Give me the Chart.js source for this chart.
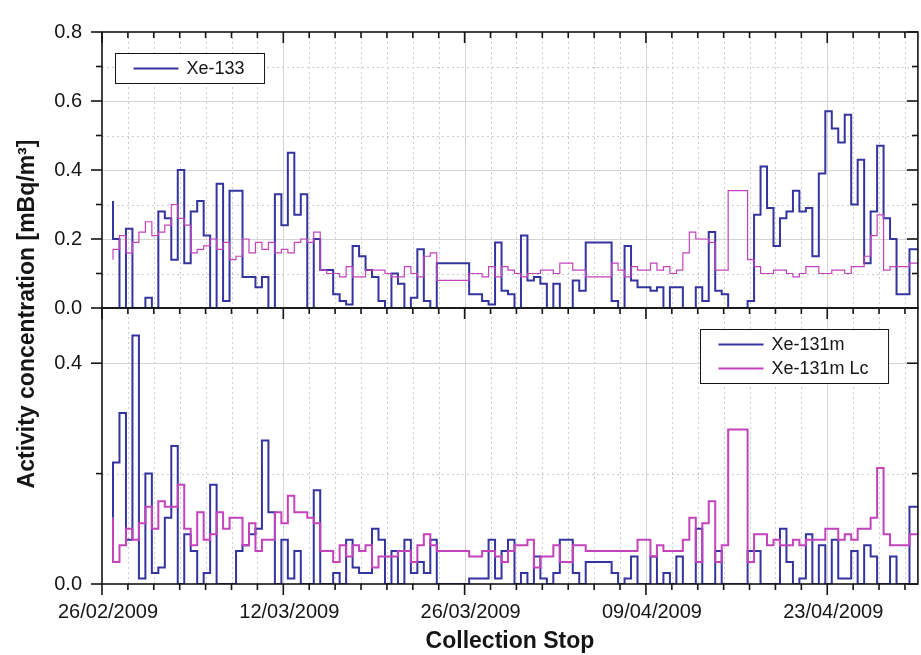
<!DOCTYPE html>
<html lang="en">
<head>
<meta charset="UTF-8">
<title>Xe-133 / Xe-131m activity concentration</title>
<script src="https://cdn.jsdelivr.net/npm/chart.js@4.4.1/dist/chart.umd.min.js"></script>
<style>
  html, body { margin: 0; padding: 0; background: #fff; }
  .wrap { width: 921px; height: 655px; }
</style>
</head>
<body>
<div class="wrap"><canvas id="chart" width="921" height="655"></canvas></div>
<script>
// collection stop, in days after 26/02/2009 00:00
const stopDays = [
  0.85, 1.35, 1.85, 2.35, 2.85, 3.35, 3.85, 4.35, 4.85, 5.35,
  5.85, 6.35, 6.85, 7.35, 7.85, 8.35, 8.85, 9.35, 9.85, 10.35,
  10.85, 11.35, 11.85, 12.35, 12.85, 13.35, 13.85, 14.35, 14.85, 15.35,
  15.85, 16.35, 16.85, 17.35, 17.85, 18.35, 18.85, 19.35, 19.85, 20.35,
  20.85, 21.35, 21.85, 22.35, 22.85, 23.35, 23.85, 24.35, 24.85, 25.35,
  25.85, 26.35, 26.85, 27.35, 27.85, 28.35, 28.85, 29.35, 29.85, 30.35,
  30.85, 31.35, 31.85, 32.35, 32.85, 33.35, 33.85, 34.35, 34.85, 35.35,
  35.85, 36.35, 36.85, 37.35, 37.85, 38.35, 38.85, 39.35, 39.85, 40.35,
  40.85, 41.35, 41.85, 42.35, 42.85, 43.35, 43.85, 44.35, 44.85, 45.35,
  45.85, 46.35, 46.85, 47.35, 47.85, 48.35, 48.85, 49.35, 49.85, 50.35,
  50.85, 51.35, 51.85, 52.35, 52.85, 53.35, 53.85, 54.35, 54.85, 55.35,
  55.85, 56.35, 56.85, 57.35, 57.85, 58.35, 58.85, 59.35, 59.85, 60.35,
  60.85, 61.35, 61.85, 62.35, 62.85, 63.35
];

// labelled dates, one every 14 days
const dateLabels = ['26/02/2009', '12/03/2009', '26/03/2009', '09/04/2009', '23/04/2009'];

// mBq/m3, null = no sample
const xe133 = [
  0.31, 0.20, 0, 0.23, 0, 0, 0.03, 0, 0.28, 0.26,
  0.14, 0.40, 0.13, 0.28, 0.31, 0.21, 0, 0.36, 0.02, 0.34,
  0.34, 0.09, 0.09, 0.06, 0.09, 0, 0.33, 0.24, 0.45, 0.27,
  0.33, 0, 0.20, 0.11, 0.11, 0.04, 0.02, 0.01, 0.18, 0.15,
  0.11, 0.09, 0.02, 0, 0.10, 0.07, 0, 0.03, 0.17, 0.02,
  0, null, null, null, null, 0.13, 0.04, 0.04, 0.02, 0.01,
  0.19, 0.05, 0.04, 0, 0.21, 0.08, 0.09, 0.07, 0, 0.07,
  0, 0, 0.08, 0.05, null, null, null, 0.19, 0.02, 0,
  0.18, 0.08, 0.06, 0.06, 0.05, 0.06, 0, 0.06, 0.06, 0,
  0, 0.06, 0.02, 0.22, 0.05, 0.04, null, null, 0, 0.02,
  0.27, 0.41, 0.29, 0.18, 0.26, 0.28, 0.34, 0.28, 0.29, 0.15,
  0.39, 0.57, 0.52, 0.48, 0.56, 0.30, 0.43, 0.13, 0.28, 0.47,
  0.26, 0.20, 0.04, 0.04, 0.17, 0.17
];

const xe133Lc = [
  0.14, 0.17, 0.21, 0.16, 0.19, 0.22, 0.25, 0.21, 0.22, 0.24,
  0.30, 0.26, 0.24, 0.16, 0.17, 0.18, 0.20, 0.17, 0.19, 0.14,
  0.15, 0.20, 0.16, 0.19, 0.17, 0.19, 0.16, 0.17, 0.16, 0.19,
  0.20, 0.19, 0.22, 0.11, 0.10, 0.10, 0.09, 0.12, 0.09, 0.09,
  0.11, 0.11, 0.11, 0.10, 0.09, 0.09, 0.12, 0.10, 0.09, 0.15,
  0.16, null, null, null, null, 0.08, 0.10, 0.10, 0.09, 0.12,
  0.09, 0.12, 0.11, 0.10, 0.09, 0.10, 0.10, 0.11, 0.11, 0.10,
  0.13, 0.13, 0.11, 0.11, null, null, null, 0.09, 0.13, 0.11,
  0.09, 0.12, 0.11, 0.11, 0.13, 0.11, 0.12, 0.10, 0.11, 0.16,
  0.22, 0.20, 0.20, 0.19, 0.11, 0.11, null, null, 0.34, 0.14,
  0.12, 0.10, 0.10, 0.11, 0.11, 0.10, 0.09, 0.10, 0.12, 0.12,
  0.10, 0.10, 0.11, 0.11, 0.10, 0.12, 0.12, 0.15, 0.21, 0.27,
  0.11, 0.12, 0.12, 0.12, 0.13, 0.13
];

const xe131m = [
  0.12, 0.22, 0.31, 0.08, 0.45, 0.01, 0.20, 0.02, 0.03, 0.12,
  0.25, 0, 0.09, 0.06, 0, 0.02, 0.18, 0, 0, 0,
  0.06, 0.07, 0.09, 0.10, 0.26, 0.13, 0, 0.08, 0.01, 0.06,
  0, 0, 0.17, 0, 0, 0.02, 0, 0.08, 0.03, 0.02,
  0.02, 0.10, 0.08, 0, 0.06, 0, 0.08, 0.02, 0.04, 0.02,
  0.08, null, null, null, null, 0, 0.01, 0.01, 0.01, 0.08,
  0.01, 0.06, 0.08, 0, 0.02, 0, 0.05, 0.01, 0, 0.02,
  0.08, 0.08, 0.02, 0, null, null, null, 0.04, 0.02, 0,
  0.01, 0.05, 0, 0, 0.05, 0, 0.02, 0, 0.05, 0,
  0, 0.10, 0, 0, 0.06, 0, null, null, 0, 0.06,
  0.06, 0, 0, 0, 0.10, 0.04, 0, 0.01, 0.09, 0,
  0.07, 0, 0.08, 0.01, 0.01, 0.06, 0, 0.07, 0.05, 0,
  0, 0.05, 0, 0, 0.14, 0.14
];

const xe131mLc = [
  0.12, 0.04, 0.07, 0.10, 0.08, 0.11, 0.14, 0.10, 0.15, 0.14,
  0.14, 0.18, 0.10, 0.07, 0.13, 0.08, 0.09, 0.13, 0.10, 0.12,
  0.12, 0.07, 0.11, 0.06, 0.08, 0.08, 0.13, 0.11, 0.16, 0.13,
  0.13, 0.12, 0.11, 0.06, 0.06, 0.04, 0.07, 0.05, 0.07, 0.06,
  0.07, 0.03, 0.05, 0.05, 0.05, 0.06, 0.06, 0.04, 0.07, 0.09,
  0.07, null, null, null, null, 0.06, 0.05, 0.05, 0.06, 0.06,
  0.05, 0.04, 0.06, 0.07, 0.07, 0.08, 0.03, 0.05, 0.05, 0.07,
  0.04, 0.04, 0.07, 0.07, null, null, null, 0.06, 0.06, 0.06,
  0.06, 0.06, 0.08, 0.08, 0.05, 0.07, 0.06, 0.06, 0.06, 0.08,
  0.12, 0.04, 0.11, 0.15, 0.04, 0.07, null, null, 0.28, 0.04,
  0.09, 0.09, 0.07, 0.08, 0.07, 0.07, 0.08, 0.07, 0.08, 0.08,
  0.08, 0.10, 0.10, 0.08, 0.09, 0.08, 0.10, 0.10, 0.12, 0.21,
  0.09, 0.07, 0.07, 0.07, 0.09, 0.09
];

const BLUE = '#3434a0';
const MAGENTA = '#c443bc';
const FONT = '"Liberation Sans", Arial, Helvetica, sans-serif';
const AXIS_COLOR = '#151515';

// legends sit inside the panels
const legendBoxes = [
  { axis: 'yTop', side: 'left', dx: 13, dy: 21, items: [0] },
  { axis: 'yBot', side: 'right', dx: 30, dy: 21, items: [2, 3] }
];

function points(values) {
  return stopDays.map((d, i) => ({ x: d, y: values[i] }));
}

function isMajorX(v) {
  return Math.abs(v / 14 - Math.round(v / 14)) < 1e-6;
}

function isMajorY(scale, v) {
  const step = scale.options.ticks.stepSize * 2;
  return Math.abs(v / step - Math.round(v / step)) < 1e-6;
}

function onStep(scale, v) {
  const step = scale.options.ticks.stepSize;
  return Math.abs(v / step - Math.round(v / step)) < 1e-6;
}

function line(ctx, x1, y1, x2, y2) {
  ctx.beginPath();
  ctx.moveTo(x1, y1);
  ctx.lineTo(x2, y2);
  ctx.stroke();
}

// grid, panel frames and tick marks (Origin style)
const panelFrame = {
  id: 'panelFrame',
  beforeDatasetsDraw(chart) {
    const { ctx, chartArea: a, scales } = chart;
    const x = scales.x;
    ctx.save();
    ctx.lineWidth = 1;
    const grid = major => {
      ctx.strokeStyle = major ? '#d4d4d4' : '#cdcdcd';
      ctx.setLineDash(major ? [] : [2, 3]);
    };
    x.ticks.forEach(t => {
      if (!onStep(x, t.value)) return;
      const px = Math.round(x.getPixelForValue(t.value)) + 0.5;
      if (px <= a.left + 2 || px >= a.right - 2) return;
      grid(isMajorX(t.value));
      line(ctx, px, a.top, px, a.bottom);
    });
    ['yTop', 'yBot'].forEach(id => {
      const s = scales[id];
      s.ticks.forEach(t => {
        if (!onStep(s, t.value)) return;
        const py = Math.round(s.getPixelForValue(t.value)) + 0.5;
        if (py <= s.top + 2 || py >= s.bottom - 2) return;
        grid(isMajorY(s, t.value));
        line(ctx, a.left, py, a.right, py);
      });
    });
    ctx.restore();
  },
  afterDatasetsDraw(chart) {
    const { ctx, chartArea: a, scales } = chart;
    const x = scales.x;
    ctx.save();
    ctx.strokeStyle = AXIS_COLOR;
    ctx.lineWidth = 1.6;
    ['yTop', 'yBot'].forEach(id => {
      const s = scales[id];
      ctx.strokeRect(a.left, s.top, a.right - a.left, s.bottom - s.top);
      // x ticks pointing into the panel from its top edge
      x.ticks.forEach(t => {
        if (!onStep(x, t.value)) return;
        const px = x.getPixelForValue(t.value);
        const len = isMajorX(t.value) ? 11 : 6;
        line(ctx, px, s.top, px, s.top + len);
      });
      // y ticks: outward on the left, inward on the right
      s.ticks.forEach(t => {
        if (!onStep(s, t.value)) return;
        const py = s.getPixelForValue(t.value);
        const len = isMajorY(s, t.value) ? 11 : 6;
        line(ctx, a.left - len, py, a.left, py);
        line(ctx, a.right - len, py, a.right, py);
      });
    });
    x.ticks.forEach(t => {
      if (!onStep(x, t.value)) return;
      const px = x.getPixelForValue(t.value);
      const len = isMajorX(t.value) ? 11 : 6;
      line(ctx, px, a.bottom, px, a.bottom + len);
    });
    ctx.restore();
  },
  afterDraw(chart) {
    const { ctx, chartArea: a } = chart;
    ctx.save();
    ctx.translate(28, (a.top + a.bottom) / 2 + 6);
    ctx.rotate(-Math.PI / 2);
    ctx.font = 'bold 23px ' + FONT;
    ctx.fillStyle = AXIS_COLOR;
    ctx.textAlign = 'center';
    ctx.textBaseline = 'middle';
    ctx.fillText('Activity concentration [mBq/m\u00b3]', 0, 0);
    ctx.restore();
  }
};

const insetLegend = {
  id: 'insetLegend',
  afterDraw(chart) {
    const { ctx, chartArea: a, scales } = chart;
    const rowH = 24, padL = 18, lineLen = 45, gap = 8, padR = 20, padV = 3;
    ctx.save();
    ctx.font = '18px ' + FONT;
    legendBoxes.forEach(box => {
      const s = scales[box.axis];
      const sets = box.items.map(i => chart.data.datasets[i]);
      const textW = Math.max(...sets.map(d => ctx.measureText(d.label).width));
      const w = padL + lineLen + gap + textW + padR;
      const h = sets.length * rowH + padV * 2;
      const bx = Math.round(box.side === 'left' ? a.left + box.dx : a.right - box.dx - w) + 0.5;
      const by = Math.round(s.top + box.dy) + 0.5;
      ctx.fillStyle = '#fff';
      ctx.fillRect(bx, by, w, h);
      ctx.strokeStyle = AXIS_COLOR;
      ctx.lineWidth = 1;
      ctx.strokeRect(bx, by, w, h);
      sets.forEach((d, r) => {
        const cy = by + padV + rowH * r + rowH / 2;
        ctx.strokeStyle = d.borderColor;
        ctx.lineWidth = 2;
        line(ctx, bx + padL, cy, bx + padL + lineLen, cy);
        ctx.fillStyle = AXIS_COLOR;
        ctx.textBaseline = 'middle';
        ctx.fillText(d.label, bx + padL + lineLen + gap, cy + 1);
      });
    });
    ctx.restore();
  }
};

const yTicks = (labelEvery) => ({
  font: { size: 20, family: FONT },
  color: AXIS_COLOR,
  padding: 20,
  autoSkip: false,
  includeBounds: false,
  callback: function (v) {
    const step = this.options.ticks.stepSize * labelEvery;
    return Math.abs(v / step - Math.round(v / step)) < 1e-6 ? v.toFixed(1) : '';
  }
});

new Chart(document.getElementById('chart'), {
  type: 'line',
  data: {
    datasets: [
      { label: 'Xe-133', data: points(xe133), yAxisID: 'yTop', borderColor: BLUE, borderWidth: 2, order: 1 },
      { label: 'Xe-133 Lc', data: points(xe133Lc), yAxisID: 'yTop', borderColor: MAGENTA, borderWidth: 1.2, order: 0 },
      { label: 'Xe-131m', data: points(xe131m), yAxisID: 'yBot', borderColor: BLUE, borderWidth: 2, order: 1 },
      { label: 'Xe-131m Lc', data: points(xe131mLc), yAxisID: 'yBot', borderColor: MAGENTA, borderWidth: 2, order: 0 }
    ]
  },
  options: {
    responsive: false,
    animation: false,
    devicePixelRatio: 1,
    layout: { padding: { top: 21, right: 3, left: 0, bottom: 0 } },
    elements: {
      line: { stepped: 'after', fill: false, tension: 0 },
      point: { radius: 0, hoverRadius: 0 }
    },
    datasets: { line: { spanGaps: true } },
    scales: {
      x: {
        type: 'linear',
        position: 'bottom',
        min: 0,
        max: 63,
        grid: { display: false, drawTicks: false },
        border: { display: false },
        ticks: {
          stepSize: 2,
          autoSkip: false,
          includeBounds: false,
          maxRotation: 0,
          padding: 16,
          labelOffset: 6,
          font: { size: 20, family: FONT },
          color: AXIS_COLOR,
          callback: v => (isMajorX(v) ? dateLabels[Math.round(v / 14)] : '')
        },
        title: {
          display: true,
          text: 'Collection Stop',
          font: { size: 23, weight: 'bold', family: FONT },
          color: AXIS_COLOR,
          padding: { top: 0, bottom: 0 }
        },
        afterFit: s => { s.height = 71; }
      },
      yBot: {
        type: 'linear',
        position: 'left',
        stack: 'panels',
        stackWeight: 1,
        min: 0,
        max: 0.5,
        grid: { display: false, drawTicks: false },
        border: { display: false },
        ticks: Object.assign(yTicks(2), { stepSize: 0.2 }),
        afterFit: s => { s.width = 102; }
      },
      yTop: {
        type: 'linear',
        position: 'left',
        stack: 'panels',
        stackWeight: 1,
        min: 0,
        max: 0.8,
        grid: { display: false, drawTicks: false },
        border: { display: false },
        ticks: Object.assign(yTicks(2), { stepSize: 0.1 }),
        afterFit: s => { s.width = 102; }
      }
    },
    plugins: {
      legend: { display: false },
      tooltip: { enabled: false }
    }
  },
  plugins: [panelFrame, insetLegend]
});
</script>
</body>
</html>
